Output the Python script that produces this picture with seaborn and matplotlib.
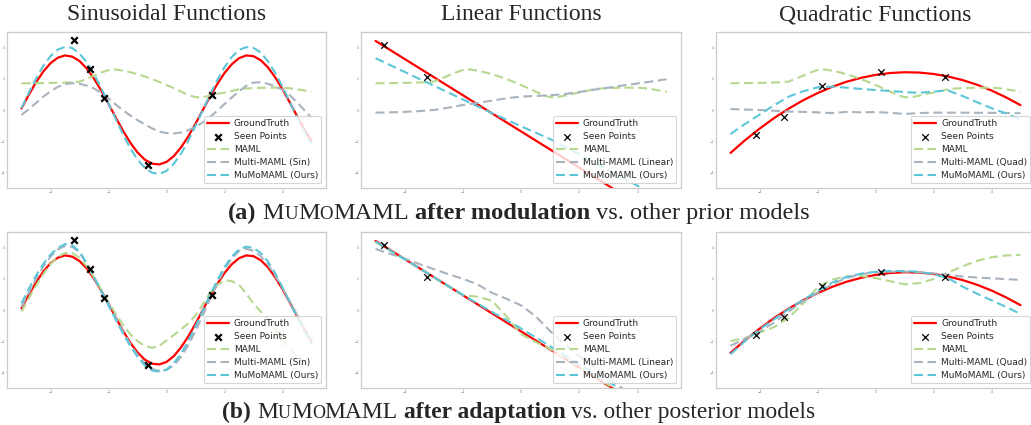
import numpy as np
import matplotlib
matplotlib.use("Agg")
import matplotlib.pyplot as plt
import seaborn as sns

# ---------------- data ----------------
SIN_X = np.arange(-5, 5.001, 0.25)   # 41 sample positions
LIN_X = np.arange(-5, 5.001, 0.5)    # 21 sample positions

SIN_GT = [0.10, 0.97, 1.77, 2.46, 3.00, 3.35, 3.50, 3.42, 3.14, 2.66, 2.01, 1.24, 0.39, -0.48,
          -1.33, -2.09, -2.72, -3.18, -3.44, -3.49, -3.33, -2.96, -2.40, -1.70, -0.88, -0.01,
          0.86, 1.66, 2.37, 2.93, 3.32, 3.50, 3.45, 3.19, 2.73, 2.09, 1.33, 0.49, -0.38, -1.23, -2.00]
MAML_PRIOR = [1.71, 1.72, 1.72, 1.73, 1.74, 1.75, 1.76, 1.78, 1.82, 2.00, 2.20, 2.40, 2.56, 2.60,
              2.52, 2.42, 2.30, 2.15, 1.98, 1.80, 1.60, 1.40, 1.18, 0.97, 0.82, 0.82, 0.92, 1.03,
              1.12, 1.22, 1.33, 1.38, 1.40, 1.42, 1.43, 1.43, 1.43, 1.40, 1.33, 1.25, 1.18]
SIN_MULTI_PRIOR = [-0.32, 0.05, 0.45, 0.85, 1.20, 1.48, 1.66, 1.72, 1.68, 1.56, 1.38, 1.10, 0.75,
                   0.35, -0.02, -0.35, -0.65, -0.92, -1.18, -1.38, -1.48, -1.50, -1.45, -1.30,
                   -1.08, -0.80, -0.45, -0.05, 0.38, 0.80, 1.20, 1.55, 1.76, 1.78, 1.68, 1.50,
                   1.30, 0.95, 0.50, 0.00, -0.50]
SIN_MUMO_PRIOR = [0.12, 1.10, 2.00, 2.83, 3.45, 3.87, 4.05, 3.97, 3.62, 3.06, 2.30, 1.40, 0.42,
                  -0.58, -1.55, -2.45, -3.18, -3.70, -4.02, -4.10, -3.90, -3.45, -2.80, -1.98,
                  -1.02, -0.02, 0.98, 1.92, 2.74, 3.40, 3.85, 4.03, 3.98, 3.68, 3.12, 2.38, 1.50,
                  0.52, -0.45, -1.35, -2.15]
SIN_MAML_POST = [-0.10, 0.75, 1.55, 2.30, 2.95, 3.40, 3.66, 3.65, 3.35, 2.80, 2.10, 1.30, 0.50,
                 -0.25, -0.95, -1.55, -2.00, -2.30, -2.42, -2.30, -1.95, -1.60, -1.25, -0.85,
                 -0.35, 0.35, 1.10, 1.60, 1.90, 1.85, 1.62, 1.05, 0.40, -0.10, -0.65, -1.25,
                 -1.95, -2.50, -2.95, -3.30, -3.60]
SIN_MULTI_POST = [0.20, 1.10, 1.98, 2.78, 3.42, 3.88, 4.10, 4.05, 3.68, 2.98, 2.12, 1.25, 0.38,
                  -0.50, -1.38, -2.18, -2.88, -3.42, -3.78, -3.90, -3.85, -3.55, -3.00, -2.25,
                  -1.35, -0.35, 0.70, 1.70, 2.60, 3.30, 3.78, 3.92, 3.80, 3.45, 2.90, 2.20, 1.40,
                  0.55, -0.30, -1.15, -1.95]
SIN_MUMO_POST = [0.43, 1.35, 2.20, 2.95, 3.55, 3.98, 4.22, 4.15, 3.75, 3.00, 2.10, 1.20, 0.30,
                 -0.62, -1.50, -2.30, -3.00, -3.55, -3.88, -3.96, -3.82, -3.42, -2.80, -2.00,
                 -1.05, -0.05, 0.95, 1.90, 2.75, 3.42, 3.88, 4.06, 3.98, 3.65, 3.10, 2.35, 1.45,
                 0.50, -0.45, -1.35, -2.15]
SIN_PTS_X = [-3.18, -2.63, -2.15, -0.63, 1.58]
SIN_PTS_Y = [4.49, 2.63, 0.79, -3.53, 0.96]

LIN_GT = [4.43, 3.85, 3.27, 2.69, 2.11, 1.53, 0.95, 0.37, -0.21, -0.79, -1.37, -1.95, -2.53,
          -3.11, -3.69, -4.27, -4.85, -5.43, -6.01, -6.59, -7.17]
LIN_MULTI_PRIOR = [-0.17, -0.15, -0.12, -0.07, 0.00, 0.15, 0.32, 0.45, 0.60, 0.75, 0.86, 0.90,
                   0.94, 1.02, 1.15, 1.30, 1.43, 1.57, 1.70, 1.83, 1.97]
LIN_MUMO_PRIOR = [3.32, 2.88, 2.44, 2.00, 1.56, 1.12, 0.68, 0.24, -0.20, -0.62, -1.04, -1.45,
                  -1.86, -2.35, -2.85, -3.35, -3.85, -4.35, -4.85, -5.35, -5.85]
LIN_MAML_POST = [4.35, 3.80, 3.25, 2.68, 2.10, 1.50, 0.95, 0.85, 0.60, -0.40, -1.55, -2.05,
                 -2.50, -3.08, -3.65, -4.22, -4.80, -5.40, -6.00, -6.60, -7.20]
LIN_MULTI_POST = [3.91, 3.60, 3.30, 2.95, 2.62, 2.30, 2.00, 1.65, 1.10, 0.72, 0.30, -0.40,
                  -1.35, -2.20, -2.95, -3.65, -4.35, -5.05, -5.75, -6.45, -7.15]
LIN_MUMO_POST = [4.39, 3.82, 3.25, 2.68, 2.11, 1.54, 0.97, 0.42, -0.12, -0.65, -1.18, -1.75,
                 -2.32, -2.90, -3.48, -4.05, -4.60, -5.15, -5.70, -6.25, -6.80]
LIN_PTS_X = [-4.72, -3.24]
LIN_PTS_Y = [4.17, 2.10]

QUAD_GT = [-2.75, -1.94, -1.20, -0.52, 0.08, 0.62, 1.08, 1.48, 1.81, 2.06, 2.25, 2.37, 2.42,
           2.40, 2.31, 2.15, 1.92, 1.62, 1.25, 0.81, 0.31]
QUAD_MULTI_PRIOR = [0.06, 0.03, 0.00, -0.05, -0.10, -0.12, -0.15, -0.20, -0.12, -0.15, -0.13,
                    -0.18, -0.25, -0.20, -0.17, -0.17, -0.17, -0.18, -0.18, -0.19, -0.21]
QUAD_MUMO_PRIOR = [-1.54, -0.90, -0.30, 0.30, 0.85, 1.20, 1.45, 1.50, 1.43, 1.35, 1.28, 1.22,
                   1.15, 1.10, 1.18, 1.25, 0.90, 0.50, 0.12, -0.22, -0.60]
QUAD_MAML_POST = [-1.99, -1.80, -1.45, -1.10, -0.50, 0.40, 1.45, 1.95, 2.15, 2.18, 2.05, 1.85,
                  1.65, 1.72, 1.98, 2.40, 2.80, 3.15, 3.38, 3.50, 3.53]
QUAD_MULTI_POST = [-2.29, -1.85, -1.40, -0.80, -0.10, 0.55, 1.10, 1.65, 2.05, 2.30, 2.42, 2.46,
                   2.46, 2.42, 2.35, 2.25, 2.15, 2.08, 2.03, 1.98, 1.93]
QUAD_MUMO_POST = [-2.84, -2.00, -1.25, -0.60, 0.05, 0.65, 1.20, 1.75, 2.12, 2.33, 2.45, 2.50,
                  2.50, 2.45, 2.30, 2.05, 1.50, 1.05, 0.62, 0.20, -0.25]
QUAD_PTS_X = [-4.12, -3.17, -1.85, 0.18, 2.38]
QUAD_PTS_Y = [-1.60, -0.43, 1.54, 2.42, 2.10]

TITLES = ["Sinusoidal Functions", "Linear Functions", "Quadratic Functions"]
MULTI_LABELS = ["Multi-MAML (Sin)", "Multi-MAML (Linear)", "Multi-MAML (Quad)"]
TICKS = [-4, -2, 0, 2, 4]

# ---------------- style ----------------
sns.set_style("white")
plt.rcParams["font.family"] = ["DejaVu Sans"]
SERIF = "Liberation Serif"
RED = "#ff0000"
GREEN = "#b6d88f"
GRAY = "#a8b3be"
CYAN = "#5cc6d8"
DASH = (0, (4.3, 2.2))
LW = 1.5

W, H = 1031, 425
fig = plt.figure(figsize=(W / 100, H / 100), dpi=100)

COLS = [(7, 326), (361, 681), (716, 1035)]
ROWS = [(32, 188), (232, 388)]


def add_ax(col, row):
    l, r = COLS[col]
    t, b = ROWS[row]
    return fig.add_axes([l / W, 1 - b / H, (r - l) / W, (b - t) / H])


def dashed(ax, x, y, color, label, z):
    sns.lineplot(x=x, y=y, ax=ax, color=color, linewidth=LW, linestyle=DASH,
                 dash_capstyle="butt", label=label, zorder=z)


def panel(ax, x_gt, gt, px, py, x_maml, maml, x_multi, multi, x_mumo, mumo, multi_label, bold):
    sns.lineplot(x=x_gt, y=gt, ax=ax, color=RED, linewidth=1.6, label="GroundTruth", zorder=2)
    sns.scatterplot(x=px, y=py, ax=ax, marker="x", color="black",
                    s=22, linewidth=1.6 if bold else 0.9,
                    label="Seen Points", zorder=6)
    dashed(ax, x_maml, maml, GREEN, "MAML", 3)
    dashed(ax, x_multi, multi, GRAY, multi_label, 3)
    dashed(ax, x_mumo, mumo, CYAN, "MuMoMAML (Ours)", 4)
    ax.set_xlim(-5.5, 5.5)
    ax.set_ylim(-5, 5)
    ax.set_xticks(TICKS)
    ax.set_yticks(TICKS)
    ax.set_xlabel("")
    ax.set_ylabel("")
    ax.tick_params(axis="both", labelsize=2.2, labelcolor="#777777", length=1.0, width=0.4,
                   color="#999999", pad=0.6, bottom=True, left=True)
    for sp in ax.spines.values():
        sp.set_color("#cccccc")
        sp.set_linewidth(0.9)
    handles, labels = ax.get_legend_handles_labels()
    hd = dict(zip(labels, handles))
    order = ["GroundTruth", "Seen Points", "MAML", multi_label, "MuMoMAML (Ours)"]
    leg = ax.legend([hd[k] for k in order], order, loc="lower right", fontsize=6.5,
                    frameon=True, framealpha=0.8, edgecolor="#cccccc", fancybox=True,
                    handlelength=2.4, handletextpad=0.6, borderpad=0.35, labelspacing=0.45,
                    scatterpoints=1)
    leg.get_frame().set_linewidth(0.8)


prior_sets = [
    (SIN_X, SIN_GT, SIN_PTS_X, SIN_PTS_Y, SIN_X, MAML_PRIOR, SIN_X, SIN_MULTI_PRIOR, SIN_X, SIN_MUMO_PRIOR),
    (LIN_X, LIN_GT, LIN_PTS_X, LIN_PTS_Y, SIN_X, MAML_PRIOR, LIN_X, LIN_MULTI_PRIOR, LIN_X, LIN_MUMO_PRIOR),
    (LIN_X, QUAD_GT, QUAD_PTS_X, QUAD_PTS_Y, SIN_X, MAML_PRIOR, LIN_X, QUAD_MULTI_PRIOR, LIN_X, QUAD_MUMO_PRIOR),
]
post_sets = [
    (SIN_X, SIN_GT, SIN_PTS_X, SIN_PTS_Y, SIN_X, SIN_MAML_POST, SIN_X, SIN_MULTI_POST, SIN_X, SIN_MUMO_POST),
    (LIN_X, LIN_GT, LIN_PTS_X, LIN_PTS_Y, LIN_X, LIN_MAML_POST, LIN_X, LIN_MULTI_POST, LIN_X, LIN_MUMO_POST),
    (LIN_X, QUAD_GT, QUAD_PTS_X, QUAD_PTS_Y, LIN_X, QUAD_MAML_POST, LIN_X, QUAD_MULTI_POST, LIN_X, QUAD_MUMO_POST),
]

for c in range(3):
    ax = add_ax(c, 0)
    panel(ax, *prior_sets[c], MULTI_LABELS[c], bold=(c == 0))
    ax = add_ax(c, 1)
    panel(ax, *post_sets[c], MULTI_LABELS[c], bold=(c == 0))
    cx = (COLS[c][0] + COLS[c][1]) / 2
    fig.text(cx / W, 1 - 15 / H, TITLES[c], ha="center", va="center", family=SERIF, fontsize=17)


def rich_text(pieces, cx, baseline_px, size):
    renderer = fig.canvas.get_renderer()
    arts = []
    for txt, rel, weight, gap in pieces:
        t = fig.text(0, 1 - baseline_px / H, txt, ha="left", va="baseline", family=SERIF,
                     fontsize=size * rel, fontweight=weight)
        arts.append((t, gap))
    widths = [t.get_window_extent(renderer).width for t, _ in arts]
    space = size * 100 / 72 * 0.25
    total = sum(widths) + sum(space for _, g in arts if g)
    x = cx - total / 2
    for (t, gap), w in zip(arts, widths):
        t.set_x(x / W)
        x += w + (space if gap else 0)


def caption(tag, bold_phrase, rest, baseline, size):
    sc = 0.77
    pieces = [
        (tag, 1, "bold", True),
        ("M", 1, "normal", False), ("U", sc, "normal", False), ("M", 1, "normal", False),
        ("O", sc, "normal", False), ("MAML", 1, "normal", True),
        (bold_phrase, 1, "bold", True),
        (rest, 1, "normal", False),
    ]
    rich_text(pieces, 519, baseline, size)


fig.canvas.draw()
caption("(a)", "after modulation", "vs. other prior models", 219, 17.6)
caption("(b)", "after adaptation", "vs. other posterior models", 418, 16.9)

fig.savefig("out.png", dpi=100)
